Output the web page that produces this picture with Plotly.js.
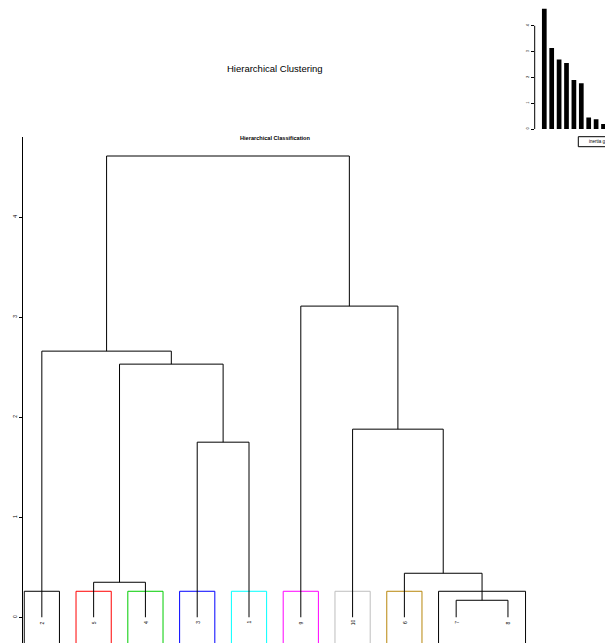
<!DOCTYPE html>
<html>
<head>
<meta charset="utf-8">
<script src="https://cdn.plot.ly/plotly-3.0.1.min.js"></script>
<style>html,body{margin:0;padding:0;background:#fff;}#chart{width:605px;height:643px;}</style>
</head>
<body>
<div id="chart"></div>
<script>
// ---- data ----
const leafOrder = ["2","5","4","3","1","9","10","6","7","8"];
// merges: leaf label or "mK" = result of the K-th merge
const mergeLeft  = ["7","5","6","3","10","m2","2","9","m7"];
const mergeRight = ["8","4","m1","1","m3","m4","m6","m5","m8"];
const mergeHeight = [0.17, 0.35, 0.44, 1.75, 1.88, 2.53, 2.66, 3.11, 4.61];
const clusterMembers = [["2"],["5"],["4"],["3"],["1"],["9"],["10"],["6"],["7","8"]];
const clusterColors = ["#000000","#FF0000","#00CD00","#0000FF","#00FFFF","#FF00FF","#BEBEBE","#B8860B","#000000"];
const cutHeight = 0.26;
const inertiaGain = [4.66, 3.14, 2.69, 2.56, 1.90, 1.77, 0.45, 0.38, 0.19];
const yTicks = [0, 1, 2, 3, 4];
const barTicks = [0, 1, 2, 3, 4];

// ---- build dendrogram segments ----
const pos = {}; const hgt = {};
leafOrder.forEach((l, i) => { pos[l] = i + 1; hgt[l] = 0; });
const dx = [], dy = [];
mergeHeight.forEach((h, i) => {
  const a = mergeLeft[i], b = mergeRight[i];
  dx.push(pos[a], pos[a], pos[b], pos[b], null);
  dy.push(hgt[a], h, h, hgt[b], null);
  const key = "m" + (i + 1);
  pos[key] = (pos[a] + pos[b]) / 2; hgt[key] = h;
});

const traces = [];
clusterMembers.forEach((mem, k) => {
  const ps = mem.map(m => pos[m]);
  const x0 = Math.min(...ps) - 0.34, x1 = Math.max(...ps) + 0.34;
  traces.push({
    type: "scatter", mode: "lines", xaxis: "x", yaxis: "y",
    x: [x0, x0, x1, x1], y: [-2, cutHeight, cutHeight, -2],
    line: { color: clusterColors[k], width: 1 }, hoverinfo: "skip"
  });
});
traces.push({
  type: "scatter", mode: "lines", xaxis: "x", yaxis: "y",
  x: dx, y: dy, line: { color: "#000", width: 1 }, hoverinfo: "skip"
});
traces.push({
  type: "bar", xaxis: "x2", yaxis: "y2",
  x: inertiaGain.map((v, i) => i + 1), y: inertiaGain,
  width: 0.635, marker: { color: "#000", line: { width: 0 } }, hoverinfo: "skip"
});

const W = 605, H = 643;
const px = v => v / W, py = v => (H - v) / H;
const FONT = "Liberation Sans, Arial, sans-serif";

const annotations = [
  { text: "Hierarchical Clustering", xref: "paper", yref: "paper", x: px(275), y: py(68.3),
    xanchor: "center", yanchor: "middle", showarrow: false,
    font: { family: FONT, size: 9.5, color: "#000" } },
  { text: "<b>Hierarchical Classification</b>", xref: "paper", yref: "paper", x: px(275), y: py(137.5),
    xanchor: "center", yanchor: "middle", showarrow: false,
    font: { family: FONT, size: 5.6, color: "#000" } },
  { text: "inertia gain", xref: "paper", yref: "paper", x: px(586.5), y: py(141.8),
    xanchor: "left", yanchor: "middle", showarrow: false,
    font: { family: FONT, size: 4.5, color: "#000" } }
];
leafOrder.forEach((l) => {
  annotations.push({
    text: l, xref: "x", yref: "y", x: pos[l], y: -0.053, textangle: -90,
    xanchor: "center", yanchor: "middle", showarrow: false,
    font: { family: FONT, size: 5, color: "#000" }
  });
});

const layout = {
  width: W, height: H, margin: { l: 0, r: 0, t: 0, b: 0 },
  paper_bgcolor: "#fff", plot_bgcolor: "rgba(0,0,0,0)", showlegend: false,
  xaxis: { domain: [px(23.2), px(526.6)], range: [0.64, 10.36], visible: false, anchor: "y" },
  yaxis: { domain: [0, py(137.3)], range: [-0.257, 4.797], anchor: "x",
    showline: true, linecolor: "#000", linewidth: 1, ticks: "outside", ticklen: 3,
    tickcolor: "#000", tickwidth: 1, tickvals: yTicks, ticktext: yTicks.map(String),
    tickangle: -90, showgrid: false, zeroline: false,
    tickfont: { family: FONT, size: 5, color: "#000" } },
  xaxis2: { domain: [px(534.7), 1], range: [-0.297, 9.203], visible: false, anchor: "y2" },
  yaxis2: { domain: [py(150), 1], range: [(129 - 150) / 25.8, 129 / 25.8], anchor: "x2",
    showline: false, ticks: "outside", ticklen: 3, tickcolor: "#000", tickwidth: 1,
    tickvals: barTicks, ticktext: barTicks.map(String), tickangle: -90,
    showgrid: false, zeroline: false,
    tickfont: { family: FONT, size: 4, color: "#000" } },
  shapes: [
    { type: "line", xref: "paper", yref: "y2", x0: px(534.7), x1: px(534.7), y0: 0, y1: 4,
      line: { color: "#000", width: 1 } },
    { type: "rect", xref: "paper", yref: "paper", x0: px(578.3), x1: px(640), y0: py(146.7), y1: py(136.7),
      line: { color: "#000", width: 1 } }
  ],
  annotations: annotations
};

Plotly.newPlot("chart", traces, layout, { staticPlot: true, displayModeBar: false });
</script>
</body>
</html>
